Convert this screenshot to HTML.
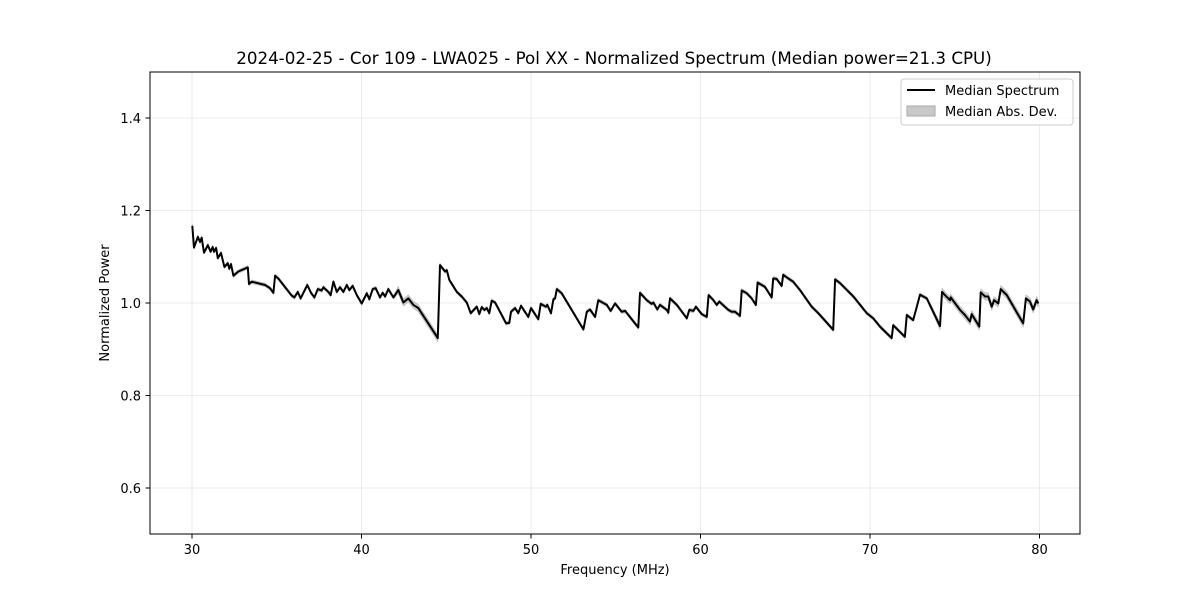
<!DOCTYPE html>
<html><head><meta charset="utf-8"><style>
body{margin:0;background:#fff;font-family:"Liberation Sans",sans-serif}
svg text{font-family:"DejaVu Sans","Liberation Sans",sans-serif}
</style></head><body>
<svg id="chart" width="1200" height="600" xmlns="http://www.w3.org/2000/svg">
<rect width="1200" height="600" fill="#fff"/>
<g id="grid"></g>
<g id="band"></g>
<g id="line"></g>
<rect x="150" y="72" width="930" height="462" fill="none" stroke="#000" stroke-width="1"/>
<g id="ticks"></g>
<text x="614" y="64" font-size="16.7" text-anchor="middle">2024-02-25 - Cor 109 - LWA025 - Pol XX - Normalized Spectrum (Median power=21.3 CPU)</text>
<text x="615" y="574" font-size="13" text-anchor="middle">Frequency (MHz)</text>
<text transform="translate(109,303) rotate(-90)" font-size="13" text-anchor="middle">Normalized Power</text>
<g>
<rect x="901" y="79" width="172" height="46" rx="3" fill="#fff" fill-opacity="0.8" stroke="#ccc"/>
<line x1="907" y1="90" x2="935" y2="90" stroke="#000" stroke-width="2"/>
<text x="945" y="95" font-size="13">Median Spectrum</text>
<rect x="907" y="106" width="28" height="10" fill="#c8c8c8" stroke="#aaa"/>
<text x="945" y="116" font-size="13">Median Abs. Dev.</text>
</g>
</svg>
<script>
const freqs=[30.02,30.12,30.35,30.47,30.57,30.71,30.94,31.10,31.22,31.30,31.42,31.52,31.71,31.91,32.11,32.20,32.30,32.44,32.73,33.29,33.36,33.52,34.31,34.60,34.80,34.90,35.09,35.39,35.88,36.04,36.24,36.41,36.80,37.02,37.22,37.42,37.65,37.75,38.04,38.18,38.34,38.54,38.73,38.93,39.13,39.28,39.48,39.72,40.01,40.31,40.46,40.66,40.84,41.09,41.25,41.39,41.58,41.88,42.17,42.47,42.76,43.06,43.35,44.50,44.63,44.93,45.03,45.18,45.62,45.91,46.21,46.44,46.80,46.95,47.09,47.25,47.39,47.54,47.68,47.88,48.53,48.72,48.82,49.06,49.25,49.41,49.84,50.00,50.43,50.57,50.88,50.96,51.18,51.32,51.42,51.52,51.81,53.09,53.29,53.48,53.78,53.97,54.47,54.70,54.96,55.35,55.55,56.33,56.43,56.83,57.12,57.22,57.45,57.61,58.01,58.10,58.20,58.60,59.19,59.34,59.58,59.73,60.07,60.37,60.48,60.76,60.96,61.11,61.64,61.84,62.04,62.33,62.43,62.73,63.02,63.27,63.37,63.80,64.20,64.29,64.49,64.79,64.88,65.18,65.47,65.87,66.56,66.95,67.83,67.94,68.23,69.02,69.81,70.19,70.59,71.28,71.37,72.06,72.17,72.55,72.95,73.35,74.13,74.25,74.42,74.72,74.76,75.31,75.60,75.90,76.00,76.45,76.53,76.79,76.98,77.18,77.32,77.57,77.71,78.07,79.04,79.20,79.44,79.63,79.83,79.93];
const power=[1.167,1.120,1.143,1.132,1.141,1.109,1.125,1.111,1.121,1.111,1.119,1.097,1.108,1.078,1.086,1.074,1.084,1.059,1.068,1.077,1.041,1.046,1.039,1.032,1.022,1.059,1.053,1.039,1.016,1.012,1.024,1.010,1.039,1.022,1.012,1.030,1.027,1.034,1.024,1.017,1.046,1.024,1.034,1.024,1.039,1.028,1.037,1.017,0.999,1.021,1.008,1.030,1.032,1.012,1.022,1.014,1.030,1.012,1.028,1.001,1.010,0.996,0.989,0.924,1.082,1.068,1.071,1.050,1.024,1.014,1.001,0.978,0.992,0.976,0.991,0.985,0.989,0.978,1.005,1.001,0.956,0.957,0.981,0.989,0.978,0.994,0.970,0.989,0.965,0.998,0.992,0.996,0.978,1.008,1.010,1.030,1.021,0.943,0.981,0.986,0.970,1.006,0.996,0.983,0.999,0.981,0.983,0.947,1.022,1.006,0.998,1.001,0.986,0.996,0.985,0.979,1.010,0.996,0.967,0.985,0.983,0.992,0.976,0.970,1.017,1.006,0.996,1.003,0.985,0.981,0.981,0.972,1.027,1.021,1.010,0.996,1.044,1.035,1.012,1.053,1.052,1.037,1.061,1.053,1.046,1.028,0.992,0.978,0.942,1.051,1.043,1.014,0.978,0.967,0.949,0.924,0.952,0.927,0.974,0.963,1.018,1.010,0.950,1.024,1.017,1.006,1.012,0.985,0.974,0.960,0.976,0.949,1.023,1.014,1.014,0.992,1.006,0.999,1.030,1.017,0.956,1.010,1.003,0.986,1.006,0.999];
const madBreaks=[30,42,44.6,74,80.1];
const madVals=[0.004,0.008,0.004,0.008];
const xTicks=[30,40,50,60,70,80];
const yTicks=[0.6,0.8,1.0,1.2,1.4];
const yTickLabels=["0.6","0.8","1.0","1.2","1.4"];

const NS="http://www.w3.org/2000/svg";
const X=f=>192+(f-30)*16.95;
const Y=p=>303-(p-1)*462.5;
function mk(tag,attrs,parent){const e=document.createElementNS(NS,tag);for(const k in attrs)e.setAttribute(k,attrs[k]);parent.appendChild(e);return e;}
const madAt=f=>{for(let i=0;i<madVals.length;i++)if(f<madBreaks[i+1])return madVals[i];return madVals[madVals.length-1];};

const grid=document.getElementById('grid'),ticks=document.getElementById('ticks');
xTicks.forEach(t=>{
  const g=mk('line',{x1:X(t),x2:X(t),y1:72,y2:534,stroke:'#e6e6e6','stroke-width':0.8},grid);
  
  
  const tk=mk('line',{x1:X(t),x2:X(t),y1:534,y2:538.5,stroke:'#000'},ticks);
  
  
  const tx=mk('text',{x:X(t),y:554,'font-size':13,'text-anchor':'middle'},ticks);
  tx.textContent=t;
  
  
});
yTicks.forEach((t,i)=>{
  const g=mk('line',{x1:150,x2:1080,y1:Y(t),y2:Y(t),stroke:'#e6e6e6','stroke-width':0.8},grid);
  
  
  const tk=mk('line',{x1:145.5,x2:150,y1:Y(t),y2:Y(t),stroke:'#000'},ticks);
  
  
  const tx=mk('text',{x:141,y:Y(t)+5,'font-size':13,'text-anchor':'end'},ticks);
  tx.textContent=yTickLabels[i];
  
  
});
let up=[],dn=[];
freqs.forEach((f,i)=>{const m=madAt(f);up.push(X(f).toFixed(1)+','+Y(power[i]+m).toFixed(1));dn.unshift(X(f).toFixed(1)+','+Y(power[i]-m).toFixed(1));});
const band=mk('polygon',{points:up.concat(dn).join(' '),fill:'#c8c8c8',stroke:'#b0b0b0','stroke-width':0.5},document.getElementById('band'));


const pl=mk('polyline',{points:freqs.map((f,i)=>X(f).toFixed(1)+','+Y(power[i]).toFixed(1)).join(' '),fill:'none',stroke:'#000','stroke-width':2,'stroke-linejoin':'round'},document.getElementById('line'));


</script>
</body></html>
